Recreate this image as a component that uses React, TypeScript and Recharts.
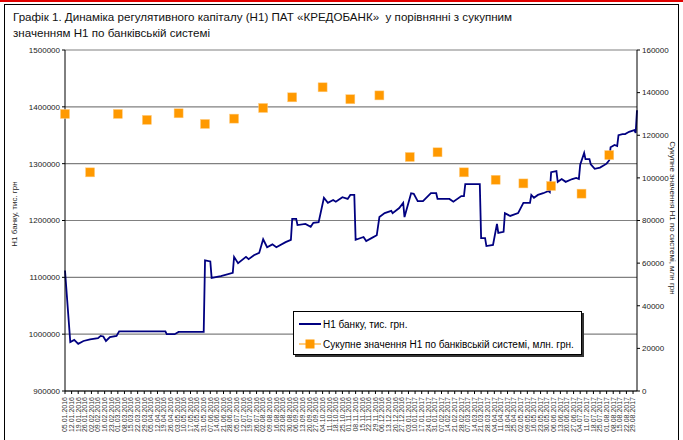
import React from "react";
import {
  ComposedChart,
  Line,
  Scatter,
  XAxis,
  YAxis,
  CartesianGrid,
} from "recharts";

// weekly tick labels (every 5th business day)
const weekLabels = [
  "05.01.2016", "12.01.2016", "19.01.2016", "26.01.2016", "02.02.2016", "09.02.2016",
  "16.02.2016", "23.02.2016", "01.03.2016", "08.03.2016", "15.03.2016", "22.03.2016",
  "29.03.2016", "05.04.2016", "12.04.2016", "19.04.2016", "26.04.2016", "03.05.2016",
  "10.05.2016", "17.05.2016", "24.05.2016", "31.05.2016", "07.06.2016", "14.06.2016",
  "21.06.2016", "28.06.2016", "05.07.2016", "12.07.2016", "19.07.2016", "26.07.2016",
  "02.08.2016", "09.08.2016", "16.08.2016", "23.08.2016", "30.08.2016", "06.09.2016",
  "13.09.2016", "20.09.2016", "27.09.2016", "04.10.2016", "11.10.2016", "18.10.2016",
  "25.10.2016", "01.11.2016", "08.11.2016", "15.11.2016", "22.11.2016", "29.11.2016",
  "06.12.2016", "13.12.2016", "20.12.2016", "27.12.2016", "03.01.2017", "10.01.2017",
  "17.01.2017", "24.01.2017", "31.01.2017", "07.02.2017", "14.02.2017", "21.02.2017",
  "28.02.2017", "07.03.2017", "14.03.2017", "21.03.2017", "28.03.2017", "04.04.2017",
  "11.04.2017", "18.04.2017", "25.04.2017", "02.05.2017", "09.05.2017", "16.05.2017",
  "23.05.2017", "30.05.2017", "06.06.2017", "13.06.2017", "20.06.2017", "27.06.2017",
  "04.07.2017", "11.07.2017", "18.07.2017", "25.07.2017", "01.08.2017", "08.08.2017",
  "15.08.2017", "22.08.2017", "29.08.2017",
];

// Н1 банку, тис. грн (business-day index from 05.01.2016)
const bankDays = [
  0, 4, 7, 10, 14, 19, 25, 27, 29, 31, 34, 39, 41, 76, 77, 83, 86, 105, 106, 110,
  111, 118, 127, 128, 131, 137, 139, 143, 147, 150, 153, 157, 160, 167, 171, 172, 175, 176, 182, 186,
  188, 192, 196, 199, 203, 205, 210, 214, 216, 219, 220, 226, 228, 232, 236, 238, 242, 247, 248, 253,
  256, 257, 262, 264, 267, 271, 277, 281, 282, 291, 294, 300, 302, 303, 314, 315, 318, 319, 324, 327,
  328, 332, 333, 337, 343, 347, 352, 353, 355, 358, 362, 366, 367, 368, 372, 373, 376, 379, 384, 387,
  389, 390, 393, 394, 397, 398, 401, 405, 410, 412, 413, 416, 418, 419, 422, 424, 427, 431, 432, 433,
];
const bankValues = [
  1112000, 986000, 990000, 983000, 988000, 991000, 993000, 997000, 996000, 988000, 995000, 997000, 1005000, 1005000, 1000000, 1000000, 1004000, 1004000, 1130000, 1128000,
  1099000, 1102000, 1108000, 1136000, 1125000, 1136000, 1132000, 1139000, 1143000, 1167000, 1153000, 1158000, 1153000, 1162000, 1166000, 1203000, 1203000, 1192000, 1194000, 1189000,
  1196000, 1197000, 1240000, 1231000, 1236000, 1233000, 1241000, 1238000, 1245000, 1245000, 1166000, 1171000, 1164000, 1169000, 1174000, 1206000, 1213000, 1217000, 1213000, 1222000,
  1231000, 1206000, 1248000, 1247000, 1234000, 1234000, 1248000, 1248000, 1238000, 1238000, 1233000, 1243000, 1243000, 1264000, 1264000, 1169000, 1169000, 1155000, 1157000, 1194000,
  1178000, 1180000, 1213000, 1208000, 1213000, 1231000, 1231000, 1245000, 1240000, 1245000, 1248000, 1252000, 1250000, 1285000, 1287000, 1268000, 1273000, 1268000, 1273000, 1275000,
  1273000, 1298000, 1319000, 1308000, 1308000, 1299000, 1291000, 1293000, 1300000, 1306000, 1329000, 1333000, 1331000, 1350000, 1352000, 1352000, 1356000, 1359000, 1354000, 1394000,
];

// Сукупне значення Н1 по банківській системі, млн грн (monthly)
const sysDays = [0, 19, 40, 62, 86, 106, 128, 150, 172, 195, 216, 238, 261, 282, 302, 326, 347, 368, 391, 412];
const sysValues = [
  130000, 102600, 130000, 127200, 130300, 125300, 127800, 132800, 137800, 142500,
  136900, 138700, 109800, 112000, 102600, 99100, 97400, 96200, 92600, 110700,
];

const leftTicks = [900000, 1000000, 1100000, 1200000, 1300000, 1400000, 1500000];
const rightTicks = [0, 20000, 40000, 60000, 80000, 100000, 120000, 140000, 160000];

const bankData = bankDays.map((d, i) => ({ day: d, bank: bankValues[i] }));
const sysData = sysDays.map((d, i) => ({ day: d, sys: sysValues[i] }));
const xTicks = weekLabels.map((_, i) => i * 5);

const FONT = "'Liberation Sans', Arial, sans-serif";

const DateTick = (props: any) => {
  const { x, y, payload } = props;
  return (
    <text
      x={x}
      y={y}
      transform={`rotate(-90, ${x}, ${y})`}
      textAnchor="end"
      dy="0.33em"
      fontSize={7}
      fontFamily={FONT}
      fill="#333"
    >
      {weekLabels[payload.value / 5]}
    </text>
  );
};

const SquareDot = (props: any) => {
  const { cx, cy } = props;
  return <rect x={cx - 4.5} y={cy - 4.5} width={9} height={9} fill="#FF9900" stroke="#FFCC80" strokeWidth={0.5} />;
};

const LegendBox = () => (
  <div
    style={{
      position: "absolute",
      left: 293,
      top: 311,
      width: 289,
      height: 44,
      background: "#fff",
      border: "1px solid #000",
      boxShadow: "2px 2px 0 #333",
      boxSizing: "border-box",
    }}
  >
    <svg width={287} height={42} style={{ position: "absolute", left: 0, top: 0 }}>
      <line x1={5} x2={27} y1={12} y2={12} stroke="#000080" strokeWidth={2} />
      <text x={29} y={15.5} fontSize={10} fontFamily={FONT}>Н1 банку, тис. грн.</text>
      <line x1={5} x2={27} y1={32} y2={32} stroke="#FFCC80" strokeWidth={2} />
      <rect x={11.5} y={27.5} width={9} height={9} fill="#FF9900" />
      <text x={29} y={35.5} fontSize={10} fontFamily={FONT}>
        Сукупне значення Н1 по банківській системі, млн. грн.
      </text>
    </svg>
  </div>
);

export default function App() {
  return (
    <div style={{ position: "absolute", left: 0, top: 0, width: 683, height: 440, background: "#fff", overflow: "hidden" }}>
      <div style={{ position: "absolute", left: 0, top: 0, width: 683, height: 2, background: "#e00000" }} />
      <div style={{ position: "absolute", left: 4, top: 4, width: 675, height: 440, border: "1px solid #000", boxSizing: "border-box" }} />
      <div
        style={{
          position: "absolute",
          left: 13,
          top: 9,
          fontFamily: FONT,
          fontSize: 11.6,
          lineHeight: "16px",
          color: "#111",
          whiteSpace: "pre",
        }}
      >
        {"Графік 1. Динаміка регулятивного капіталу (Н1) ПАТ «КРЕДОБАНК»  у порівнянні з сукупним\nзначенням Н1 по банківській системі"}
      </div>
      <ComposedChart
        width={683}
        height={440}
        margin={{ top: 50, right: 1, left: 0, bottom: 0 }}
        style={{ position: "absolute", left: 0, top: 0 }}
      >
        <CartesianGrid vertical={false} stroke="#808080" strokeWidth={1.2} yAxisId="left" />
        <XAxis
          dataKey="day"
          type="number"
          domain={[0, 433]}
          ticks={xTicks}
          interval={0}
          tick={<DateTick />}
          tickSize={3}
          tickMargin={3}
          height={49}
          stroke="#000"
        />
        <YAxis
          yAxisId="left"
          domain={[900000, 1500000]}
          ticks={leftTicks}
          width={65}
          tickSize={3}
          tick={{ fontSize: 8, fontFamily: FONT, fill: "#222" }}
          stroke="#000"
          interval={0}
        />
        <YAxis
          yAxisId="right"
          orientation="right"
          domain={[0, 160000]}
          ticks={rightTicks}
          width={45}
          tickSize={3}
          tick={{ fontSize: 8, fontFamily: FONT, fill: "#222" }}
          stroke="#000"
          interval={0}
        />
        <Line
          yAxisId="left"
          data={bankData}
          dataKey="bank"
          type="linear"
          stroke="#000080"
          strokeWidth={1.8}
          dot={false}
          isAnimationActive={false}
        />
        <Scatter
          yAxisId="right"
          data={sysData}
          dataKey="sys"
          shape={<SquareDot />}
          isAnimationActive={false}
        />
      </ComposedChart>
      <LegendBox />
      <svg width={683} height={440} style={{ position: "absolute", left: 0, top: 0, pointerEvents: "none" }}>
        <text
          x={17}
          y={214}
          transform="rotate(-90, 17, 214)"
          textAnchor="middle"
          fontSize={8}
          fontFamily={FONT}
          fill="#222"
        >
          Н1 банку, тис. грн
        </text>
        <text
          x={670}
          y={218}
          transform="rotate(90, 670, 218)"
          textAnchor="middle"
          fontSize={8}
          fontFamily={FONT}
          fill="#222"
        >
          Сукупне значення Н1 по системі, млн грн
        </text>
      </svg>
    </div>
  );
}
